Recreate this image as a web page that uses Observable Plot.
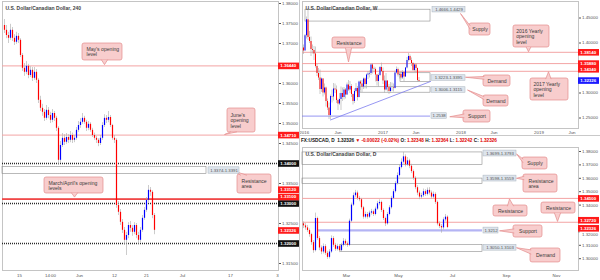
<!DOCTYPE html>
<html><head><meta charset="utf-8">
<script src="https://cdn.jsdelivr.net/npm/d3@7"></script>
<script src="https://cdn.jsdelivr.net/npm/@observablehq/plot@0.6"></script>
<style>
html,body{margin:0;padding:0;background:#fff;}
#wrap{position:relative;width:600px;height:280px;overflow:hidden;font-family:"Liberation Sans",Arial,sans-serif;}
.p{position:absolute;}
.sep{position:absolute;background:#c9c9c9;}
#hdr{position:absolute;left:301px;top:137px;font-size:4.7px;line-height:8px;font-weight:bold;color:#111;white-space:nowrap;}
#hdr .r{color:#e00000;}
</style></head><body>
<div id="wrap">
 <div id="h4" class="p" style="left:0;top:0"></div>
 <div id="wk" class="p" style="left:300px;top:0"></div>
 <div id="dy" class="p" style="left:300px;top:140px"></div>
 <div id="hdr">FX:USDCAD, D&nbsp; 1.32326 <span class="r">▼ -0.00022 (-0.02%)</span> O: <span class="r">1.32348</span> H: <span class="r">1.32364</span> L: <span class="r">1.32242</span> C: <span class="r">1.32326</span></div>
 <div class="sep" style="left:299px;top:0;width:1px;height:280px"></div>
 <div class="sep" style="left:300px;top:135px;width:300px;height:1px"></div>
</div>
<script>
// ---------------- DATA ----------------
// 4H chart (U.S. Dollar/Canadian Dollar, 240)
const h4Open=[1.3745,1.3733,1.3720,1.3713,1.3733,1.3713,1.3703,1.3718,1.3708,1.3670,1.3638,1.3628,1.3643,1.3620,1.3633,1.3613,1.3628,1.3608,1.3558,1.3538,1.3528,1.3513,1.3533,1.3520,1.3508,1.3525,1.3513,1.3488,1.3408,1.3445,1.3463,1.3453,1.3465,1.3458,1.3470,1.3458,1.3463,1.3483,1.3495,1.3503,1.3513,1.3503,1.3488,1.3498,1.3483,1.3470,1.3463,1.3458,1.3450,1.3463,1.3495,1.3513,1.3508,1.3515,1.3495,1.3463,1.3458,1.3295,1.3278,1.3253,1.3233,1.3208,1.3220,1.3245,1.3238,1.3228,1.3245,1.3220,1.3208,1.3233,1.3263,1.3283,1.3308,1.3333,1.3328,1.3270];
const h4High=[1.3760,1.3745,1.3728,1.3748,1.3740,1.3722,1.3728,1.3725,1.3712,1.3675,1.3650,1.3655,1.3648,1.3642,1.3640,1.3640,1.3635,1.3612,1.3568,1.3548,1.3535,1.3545,1.3540,1.3528,1.3535,1.3530,1.3518,1.3492,1.3455,1.3475,1.3472,1.3475,1.3472,1.3480,1.3476,1.3470,1.3490,1.3505,1.3512,1.3525,1.3518,1.3508,1.3505,1.3502,1.3488,1.3476,1.3468,1.3462,1.3470,1.3502,1.3522,1.3520,1.3530,1.3520,1.3498,1.3470,1.3462,1.3305,1.3285,1.3260,1.3240,1.3228,1.3252,1.3255,1.3245,1.3252,1.3250,1.3228,1.3240,1.3270,1.3290,1.3315,1.3345,1.3340,1.3332,1.3275];
const h4Low=[1.3725,1.3712,1.3700,1.3708,1.3705,1.3695,1.3698,1.3700,1.3665,1.3630,1.3618,1.3622,1.3612,1.3615,1.3605,1.3608,1.3600,1.3550,1.3530,1.3518,1.3505,1.3508,1.3512,1.3500,1.3502,1.3505,1.3480,1.3395,1.3400,1.3440,1.3445,1.3448,1.3450,1.3452,1.3450,1.3452,1.3458,1.3478,1.3488,1.3498,1.3498,1.3480,1.3482,1.3478,1.3465,1.3458,1.3450,1.3442,1.3445,1.3458,1.3490,1.3500,1.3502,1.3490,1.3458,1.3450,1.3288,1.3270,1.3245,1.3225,1.3195,1.3170,1.3212,1.3228,1.3218,1.3222,1.3212,1.3198,1.3202,1.3228,1.3258,1.3278,1.3302,1.3318,1.3262,1.3222];
const h4Close=[1.3733,1.3720,1.3713,1.3733,1.3713,1.3703,1.3718,1.3708,1.3670,1.3638,1.3628,1.3643,1.3620,1.3633,1.3613,1.3628,1.3608,1.3558,1.3538,1.3528,1.3513,1.3533,1.3520,1.3508,1.3525,1.3513,1.3488,1.3408,1.3445,1.3463,1.3453,1.3465,1.3458,1.3470,1.3458,1.3463,1.3483,1.3495,1.3503,1.3513,1.3503,1.3488,1.3498,1.3483,1.3470,1.3463,1.3458,1.3450,1.3463,1.3495,1.3513,1.3508,1.3515,1.3495,1.3463,1.3458,1.3295,1.3278,1.3253,1.3233,1.3208,1.3220,1.3245,1.3238,1.3228,1.3245,1.3220,1.3208,1.3233,1.3263,1.3283,1.3308,1.3333,1.3328,1.3270,1.3233];
const h4XTickPos=[7.5,23,37.5,55,71,89,113,136.5];
const h4XTickLab=["15","14:00","Jun","12","21","Jul","17","3"];
const h4YTicks=[1.38,1.375,1.37,1.36,1.355,1.35,1.345,1.335,1.325,1.315];
const h4MonthOpen=[1.3644,1.3471];          // May's, June's opening levels
const h4MarAprOpen=[1.3312,1.3310];         // March/April opening levels
const h4Round=[1.34,1.33,1.32];             // dotted round numbers
const h4ResArea=[1.3374,1.3391];
const lastPrice=1.32326;

// Weekly chart (first bar = week of 28 Dec 2015)
const wOpen=[1.3900,1.3840,1.4145,1.4465,1.4110,1.4030,1.3870,1.3850,1.3780,1.3530,1.3390,1.3300,1.3070,1.3280,1.3000,1.3100,1.2830,1.2700,1.2550,1.2930,1.2920,1.3080,1.3060,1.2850,1.2780,1.2870,1.2990,1.2910,1.3060,1.2960,1.3160,1.3060,1.3130,1.2970,1.2830,1.3030,1.3090,1.2910,1.3220,1.3180,1.3120,1.3280,1.3170,1.3360,1.3380,1.3390,1.3560,1.3480,1.3470,1.3360,1.3230,1.3350,1.3510,1.3430,1.3240,1.3060,1.3240,1.3110,1.3030,1.3100,1.3100,1.3090,1.3400,1.3470,1.3360,1.3370,1.3300,1.3410,1.3320,1.3500,1.3650,1.3730,1.3650,1.3590,1.3450,1.3560,1.3490,1.3250];
const wHigh=[1.3960,1.4170,1.4520,1.4690,1.4230,1.4120,1.3960,1.3930,1.3920,1.3570,1.3490,1.3460,1.3300,1.3290,1.3180,1.3120,1.2880,1.2800,1.2960,1.3060,1.3190,1.3180,1.3140,1.2880,1.2990,1.3120,1.3100,1.3110,1.3090,1.3200,1.3250,1.3230,1.3170,1.2980,1.3080,1.3190,1.3130,1.3240,1.3250,1.3250,1.3300,1.3300,1.3380,1.3430,1.3440,1.3580,1.3588,1.3520,1.3500,1.3370,1.3380,1.3530,1.3598,1.3500,1.3340,1.3390,1.3240,1.3170,1.3210,1.3200,1.3180,1.3440,1.3520,1.3500,1.3410,1.3430,1.3450,1.3430,1.3510,1.3710,1.3793,1.3760,1.3700,1.3610,1.3580,1.3580,1.3500,1.3310];
const wLow=[1.3770,1.3840,1.4080,1.4050,1.3990,1.3730,1.3780,1.3650,1.3500,1.3330,1.3250,1.2970,1.3010,1.2920,1.2960,1.2720,1.2650,1.2470,1.2461,1.2800,1.2840,1.2990,1.2790,1.2650,1.2750,1.2650,1.2830,1.2860,1.2880,1.2950,1.3030,1.2990,1.2910,1.2760,1.2790,1.3000,1.2840,1.2900,1.3050,1.3010,1.3070,1.3080,1.3080,1.3270,1.3300,1.3350,1.3380,1.3400,1.3220,1.3140,1.3120,1.3330,1.3410,1.3170,1.3000,1.3040,1.3020,1.2970,1.3000,1.3030,1.3020,1.3080,1.3380,1.3320,1.3280,1.3260,1.3270,1.3230,1.3310,1.3480,1.3620,1.3640,1.3530,1.3430,1.3420,1.3410,1.3220,1.3220];
const wClose=[1.3840,1.4145,1.4465,1.4110,1.4030,1.3870,1.3850,1.3780,1.3530,1.3390,1.3300,1.3070,1.3280,1.3000,1.3100,1.2830,1.2700,1.2550,1.2930,1.2920,1.3080,1.3060,1.2850,1.2780,1.2870,1.2990,1.2910,1.3060,1.2960,1.3160,1.3060,1.3130,1.2970,1.2830,1.3030,1.3090,1.2910,1.3220,1.3180,1.3120,1.3280,1.3170,1.3360,1.3380,1.3390,1.3560,1.3480,1.3470,1.3360,1.3230,1.3350,1.3510,1.3430,1.3240,1.3060,1.3240,1.3110,1.3030,1.3100,1.3100,1.3090,1.3400,1.3470,1.3360,1.3370,1.3300,1.3410,1.3320,1.3500,1.3650,1.3730,1.3650,1.3590,1.3450,1.3560,1.3490,1.3250,1.3233];
const wXTickPos=[0.5,23,53,75,105,127,157,179];
const wXTickLab=["2016","Jun","2017","Jun","2018","Jun","2019","Jun"];
const wYTicks=[1.45,1.40,1.30,1.25];
const wYearly=[1.3814,1.3588,1.3434];
const wSupply=[1.4429,1.4666];
const wDemand1=[1.3223,1.3395];
const wDemand2=[1.3006,1.3115];
const wSupport=1.2538;
const wTrend=[[18,1.2461],[84.67,1.3230]];

// Daily chart
const dOpen=[1.3260,1.3245,1.3230,1.3210,1.3180,1.3120,1.3060,1.3300,1.3150,1.3080,1.3050,1.3090,1.3040,1.3010,1.3050,1.3150,1.3100,1.3070,1.3090,1.3060,1.3100,1.3130,1.3110,1.3100,1.3280,1.3400,1.3470,1.3490,1.3450,1.3440,1.3380,1.3310,1.3330,1.3310,1.3340,1.3350,1.3330,1.3370,1.3410,1.3420,1.3360,1.3300,1.3260,1.3330,1.3380,1.3450,1.3500,1.3560,1.3620,1.3680,1.3720,1.3760,1.3700,1.3730,1.3690,1.3650,1.3600,1.3530,1.3490,1.3460,1.3470,1.3500,1.3480,1.3510,1.3490,1.3460,1.3480,1.3420,1.3260,1.3240,1.3230,1.3290,1.3310];
const dHigh=[1.3275,1.3262,1.3248,1.3222,1.3190,1.3135,1.3340,1.3310,1.3165,1.3095,1.3110,1.3105,1.3055,1.3068,1.3170,1.3165,1.3115,1.3108,1.3105,1.3115,1.3150,1.3145,1.3125,1.3295,1.3415,1.3490,1.3510,1.3505,1.3465,1.3450,1.3390,1.3348,1.3345,1.3355,1.3368,1.3362,1.3385,1.3428,1.3440,1.3430,1.3372,1.3310,1.3345,1.3395,1.3465,1.3515,1.3575,1.3640,1.3700,1.3745,1.3793,1.3775,1.3755,1.3742,1.3705,1.3662,1.3612,1.3545,1.3505,1.3488,1.3520,1.3515,1.3528,1.3530,1.3505,1.3498,1.3492,1.3430,1.3275,1.3255,1.3305,1.3330,1.3320];
const dLow=[1.3225,1.3212,1.3195,1.3160,1.3100,1.3040,1.3050,1.3135,1.3060,1.3030,1.3035,1.3025,1.2995,1.2998,1.3040,1.3085,1.3055,1.3058,1.3045,1.3050,1.3088,1.3095,1.3085,1.3090,1.3270,1.3390,1.3455,1.3435,1.3425,1.3365,1.3295,1.3298,1.3295,1.3300,1.3325,1.3315,1.3320,1.3360,1.3395,1.3345,1.3285,1.3240,1.3250,1.3320,1.3370,1.3440,1.3490,1.3550,1.3610,1.3670,1.3705,1.3685,1.3690,1.3672,1.3635,1.3585,1.3515,1.3470,1.3440,1.3445,1.3458,1.3465,1.3468,1.3475,1.3445,1.3448,1.3405,1.3245,1.3225,1.3190,1.3215,1.3275,1.3224];
const dClose=[1.3245,1.3230,1.3210,1.3180,1.3120,1.3060,1.3300,1.3150,1.3080,1.3050,1.3090,1.3040,1.3010,1.3050,1.3150,1.3100,1.3070,1.3090,1.3060,1.3100,1.3130,1.3110,1.3100,1.3280,1.3400,1.3470,1.3490,1.3450,1.3440,1.3380,1.3310,1.3330,1.3310,1.3340,1.3350,1.3330,1.3370,1.3410,1.3420,1.3360,1.3300,1.3260,1.3330,1.3380,1.3450,1.3500,1.3560,1.3620,1.3680,1.3720,1.3760,1.3700,1.3730,1.3690,1.3650,1.3600,1.3530,1.3490,1.3460,1.3470,1.3500,1.3480,1.3510,1.3490,1.3460,1.3480,1.3420,1.3260,1.3240,1.3230,1.3290,1.3310,1.3233];
const dXTickPos=[21.5,47.5,74.5,101.5,126.5];
const dXTickLab=["Mar","May","Jul","Sep","Nov"];
const dYTicks=[1.38,1.37,1.36,1.35,1.34,1.32,1.31,1.30];
const dResistance=[1.3450,1.3272];
const dSupply=[1.3699,1.3793];
const dResArea=[1.3559,1.3598];
const dDemand=[1.3050,1.3103];
const dSupport=1.3212;

// ---------------- HELPERS ----------------
const FONT='"Liberation Sans", Arial, sans-serif';
const PINK="#f3a4a4", CF="#f8cdcd", CS="#e48c8c", LF="#dde4ec", LS="#a9b3be";
const f5=d=>d.toFixed(5);
const style={fontFamily:FONT,fontSize:"4.4px",color:"#555",background:"transparent",overflow:"visible"};

function candles(o,h,l,c,bw){
  const rows=c.map((v,i)=>({i,o:o[i],h:h[i],l:l[i],c:v}));
  return [
    Plot.ruleX(rows,{x:"i",y1:"l",y2:"h",stroke:"#a9a9a9",strokeWidth:0.6}),
    Plot.ruleX(rows,{x:"i",y1:"o",y2:"c",stroke:d=>d.c>=d.o?"#0000ff":"#ff0000",strokeWidth:bw})
  ];
}
function callout(b){
  return [
    Plot.rect([b],{x1:"x1",x2:"x2",y1:"y1",y2:"y2",fill:CF,stroke:CS,strokeWidth:0.7,rx:2}),
    Plot.line(b.tail,{x:d=>d[0],y:d=>d[1],fill:CF,stroke:CS,strokeWidth:0.7}),
    Plot.text([b],{x:"tx",y:"ty",text:"t",textAnchor:b.a||"middle",lineAnchor:"middle",fontSize:5.1,fill:"#3a3a3a",lineHeight:1.05})
  ];
}
function valLabel(x1,x2,yc,hh,t){
  return [
    Plot.rect([0],{x1,x2,y1:yc-hh,y2:yc+hh,fill:LF,stroke:LS,strokeWidth:0.5}),
    Plot.text([t],{x:(x1+x2)/2,y:yc,text:d=>d,fontSize:4.3,fill:"#555"})
  ];
}
function badges(list,xr,w,dy=0){
  return [
    Plot.ruleY(list,{y:"v",x1:xr,x2:xr+w,stroke:"bg",strokeWidth:6.6,dy}),
    Plot.text(list,{y:"v",x:xr,dx:1.8,dy,text:d=>f5(d.v),fill:"white",textAnchor:"start",fontSize:4.4,fontWeight:"bold"})
  ];
}
// a right-axis tick label drawn as a mark, nudged to make room for a badge
function shiftedTick(v,xr,u,dy){
  return [
    Plot.ruleY([v],{y:d=>d,x1:xr,x2:xr+u,stroke:"#555",strokeWidth:0.6}),
    Plot.text([v],{y:d=>d,x:xr,dx:3.5,dy,text:f5,fill:"#555",textAnchor:"start",fontSize:4.4})
  ];
}
function title(t){return Plot.text([t],{frameAnchor:"top-left",dx:3,dy:5,text:d=>d,fontSize:5,fill:"#444",fontWeight:"bold",textAnchor:"start"});}
const tickFmt=(pos,lab)=>d=>lab[pos.indexOf(d)];

// ---------------- 4H PANEL ----------------
const h4=Plot.plot({
  width:300,height:280,marginLeft:2,marginRight:22,marginTop:1,marginBottom:10,style,
  x:{domain:[-1,137],ticks:h4XTickPos,tickFormat:tickFmt(h4XTickPos,h4XTickLab),tickSize:0,tickPadding:3,label:null},
  y:{domain:[1.31325,1.3805],axis:"right",ticks:h4YTicks,tickFormat:f5,tickSize:2,tickPadding:1.5,label:null},
  marks:[
    Plot.frame({stroke:"#c4c4c4"}),
    Plot.rect([h4ResArea],{x1:-1,x2:101,y1:d=>d[0],y2:d=>d[1],fill:"none",stroke:"#8c8c8c",strokeWidth:0.6}),
    Plot.ruleY(h4MonthOpen,{stroke:PINK,strokeWidth:1}),
    Plot.ruleY(h4MarAprOpen,{stroke:"#f04848",strokeWidth:1}),
    Plot.ruleY(h4Round,{stroke:"#2a2a2a",strokeWidth:1.4,strokeDasharray:"1,1"}),
    ...candles(h4Open,h4High,h4Low,h4Close,1.2),
    title("U.S. Dollar/Canadian Dollar, 240"),
    ...callout({x1:39,x2:59,y1:1.36575,y2:1.3700,t:"May's opening\nlevel",tx:41,ty:1.3679,a:"start",tail:[[48.5,1.3659],[50,1.3647],[51.5,1.3659]]}),
    ...callout({x1:111.5,x2:125.5,y1:1.34775,y2:1.35375,t:"June's\nopening\nlevel",tx:113,ty:1.35075,a:"start",tail:[[113,1.3479],[110,1.34725],[116,1.3479]]}),
    ...callout({x1:20,x2:49.5,y1:1.3325,y2:1.3365,t:"March/April's opening\nlevels",tx:22,ty:1.3345,a:"start",tail:[[33.5,1.33265],[35,1.3316],[36.5,1.33265]]}),
    ...callout({x1:116.5,x2:133.5,y1:1.3325,y2:1.33725,t:"Resistance\narea",tx:118.5,ty:1.33488,a:"start",tail:[[118,1.3371],[115.5,1.3380],[121,1.3371]]}),
    ...valLabel(102,117.5,1.33825,0.0008,"1.3374-1.3391"),
    ...badges([{v:1.3644,bg:"#ff1a1a"},{v:1.3471,bg:"#ff1a1a"},{v:1.34,bg:"#111"},{v:1.33,bg:"#111"},{v:lastPrice,bg:"#ff1a1a"},{v:1.32,bg:"#111"}],137,10.5),
    ...badges([{v:h4MarAprOpen[0],bg:"#ff1a1a"}],137,10.5,-9),
    ...badges([{v:h4MarAprOpen[1],bg:"#ff1a1a"}],137,10.5,-2.5)
  ]
});
document.getElementById("h4").append(h4);

// ---------------- WEEKLY PANEL ----------------
const wk=Plot.plot({
  width:300,height:135,marginLeft:2,marginRight:22,marginTop:1,marginBottom:7,style,
  x:{domain:[-0.67,183.33],ticks:wXTickPos,tickFormat:tickFmt(wXTickPos,wXTickLab),tickSize:0,tickPadding:2,label:null},
  y:{domain:[1.229,1.483],axis:"right",ticks:wYTicks,tickFormat:f5,tickSize:2,tickPadding:1.5,label:null},
  marks:[
    Plot.frame({stroke:"#c4c4c4"}),
    Plot.rect([wSupply],{x1:1.33,x2:84.67,y1:d=>d[0],y2:d=>d[1],fill:"none",stroke:"#8c8c8c",strokeWidth:0.6}),
    Plot.rect([wDemand1],{x1:64.67,x2:84.67,y1:d=>d[0],y2:d=>d[1],fill:"none",stroke:"#8c8c8c",strokeWidth:0.6}),
    Plot.rect([wDemand2],{x1:38,x2:84.67,y1:d=>d[0],y2:d=>d[1],fill:"none",stroke:"#8c8c8c",strokeWidth:0.6}),
    Plot.ruleY(wYearly,{stroke:PINK,strokeWidth:1}),
    Plot.ruleY([wSupport],{x1:-0.67,x2:84.67,stroke:"#7b7bef",strokeWidth:0.8}),
    Plot.line(wTrend,{x:d=>d[0],y:d=>d[1],stroke:"#7b7bef",strokeWidth:0.8}),
    ...candles(wOpen,wHigh,wLow,wClose,1),
    title("U.S. Dollar/Canadian Dollar, W"),
    ...valLabel(86,108,1.4666,0.0055,"1.4666-1.4429"),
    ...valLabel(85.33,108,1.3300,0.0055,"1.3223-1.3395"),
    ...valLabel(85.33,108,1.3060,0.0055,"1.3006-1.3115"),
    ...valLabel(85.33,95.5,1.2540,0.0055,"1.2538"),
    ...callout({x1:19.33,x2:41.33,y1:1.389,y2:1.411,t:"Resistance",tx:30.33,ty:1.4,tail:[[28,1.3895],[30,1.362],[32,1.3895]]}),
    ...callout({x1:110.67,x2:124.67,y1:1.415,y2:1.439,t:"Supply",tx:117.67,ty:1.427,tail:[[111,1.435],[104.67,1.459],[111,1.428]]}),
    ...callout({x1:140,x2:164,y1:1.391,y2:1.435,t:"2016 Yearly\nopening\nlevel",tx:141.8,ty:1.413,a:"start",tail:[[148.5,1.3915],[150,1.3825],[151.5,1.3915]]}),
    ...callout({x1:120,x2:138,y1:1.313,y2:1.335,t:"Demand",tx:129,ty:1.324,tail:[[120.3,1.333],[108,1.3315],[120.3,1.3275]]}),
    ...callout({x1:151.33,x2:176.67,y1:1.285,y2:1.329,t:"2017 Yearly\nopening\nlevel",tx:153.3,ty:1.307,a:"start",tail:[[161.5,1.3285],[163.33,1.3425],[165,1.3285]]}),
    ...callout({x1:120,x2:136.67,y1:1.273,y2:1.295,t:"Demand",tx:128.3,ty:1.284,tail:[[120.3,1.293],[109.33,1.306],[120.3,1.287]]}),
    ...callout({x1:106.67,x2:124.67,y1:1.241,y2:1.265,t:"Support",tx:115.67,ty:1.253,tail:[[107,1.258],[97.5,1.2525],[107,1.2505]]}),
    ...badges([{v:wYearly[0],bg:"#ff1a1a"},{v:wYearly[1],bg:"#ff1a1a"}],183.33,14),
    ...badges([{v:wYearly[2],bg:"#ff1a1a"}],183.33,14,-2),
    ...badges([{v:lastPrice,bg:"#1a1aff"}],183.33,14,-0.8)
  ]
});
document.getElementById("wk").append(wk);

// ---------------- DAILY PANEL ----------------
const dAxisTicks=dYTicks.filter(v=>v!==1.32);
const dy=Plot.plot({
  width:300,height:140,marginLeft:2,marginRight:22,marginTop:7,marginBottom:10,style,
  x:{domain:[-0.5,137.5],ticks:dXTickPos,tickFormat:tickFmt(dXTickPos,dXTickLab),tickSize:0,tickPadding:3,label:null},
  y:{domain:[1.29119,1.38299],axis:"right",ticks:dAxisTicks,tickFormat:f5,tickSize:2,tickPadding:1.5,label:null},
  marks:[
    Plot.frame({stroke:"#c4c4c4"}),
    Plot.rect([dSupply],{x1:-0.5,x2:89.5,y1:d=>d[0],y2:d=>d[1],fill:"none",stroke:"#8c8c8c",strokeWidth:0.6}),
    Plot.rect([dResArea],{x1:-0.5,x2:89.5,y1:d=>d[0],y2:d=>d[1],fill:"none",stroke:"#8c8c8c",strokeWidth:0.6}),
    Plot.rect([dDemand],{x1:18.5,x2:89.5,y1:d=>d[0],y2:d=>d[1],fill:"none",stroke:"#8c8c8c",strokeWidth:0.6}),
    Plot.ruleY(dResistance,{stroke:PINK,strokeWidth:1}),
    Plot.ruleY([dSupport],{x1:7.5,x2:89.5,stroke:"#b4b4f4",strokeWidth:2.2}),
    ...candles(dOpen,dHigh,dLow,dClose,1.2),
    title("U.S. Dollar/Canadian Dollar, D"),
    ...valLabel(90,106.5,1.3785,0.0022,"1.3699-1.3793"),
    ...valLabel(90,106.5,1.3598,0.0022,"1.3598-1.3559"),
    ...valLabel(90,97.5,1.3210,0.0022,"1.3212"),
    ...valLabel(90,106.5,1.3082,0.0022,"1.3050-1.3103"),
    ...callout({x1:109.5,x2:122,y1:1.3666,y2:1.3755,t:"Supply",tx:115.75,ty:1.371,tail:[[109.7,1.3745],[106.5,1.3782],[109.7,1.3718]]}),
    ...callout({x1:110,x2:127,y1:1.3494,y2:1.3628,t:"Resistance\narea",tx:112.5,ty:1.3561,a:"start",tail:[[110.2,1.3615],[106.5,1.3600],[110.2,1.3590]]}),
    ...callout({x1:95,x2:112,y1:1.3315,y2:1.3397,t:"Resistance",tx:103.5,ty:1.3356,tail:[[102,1.3394],[103,1.3446],[105,1.3394]]}),
    ...callout({x1:119,x2:136,y1:1.3337,y2:1.3419,t:"Resistance",tx:127.5,ty:1.3378,tail:[[125.5,1.334],[127,1.3278],[128.5,1.334]]}),
    ...callout({x1:105,x2:119.5,y1:1.3158,y2:1.3248,t:"Support",tx:112.25,ty:1.3203,tail:[[105.2,1.3222],[98,1.3208],[105.2,1.3192]]}),
    ...callout({x1:113.5,x2:128.5,y1:1.2972,y2:1.3076,t:"Demand",tx:121,ty:1.3024,tail:[[113.7,1.3066],[106.5,1.3082],[113.7,1.3035]]}),
    ...shiftedTick(1.32,137.5,1,2.5),
    ...badges([{v:1.345,bg:"#ff1a1a"}],137.5,10.5),
    ...badges([{v:1.3272,bg:"#ff1a1a"}],137.5,10.5,-2),
    ...badges([{v:lastPrice,bg:"#ff1a1a"}],137.5,10.5,0.8)
  ]
});
document.getElementById("dy").append(dy);
</script>
</body></html>
